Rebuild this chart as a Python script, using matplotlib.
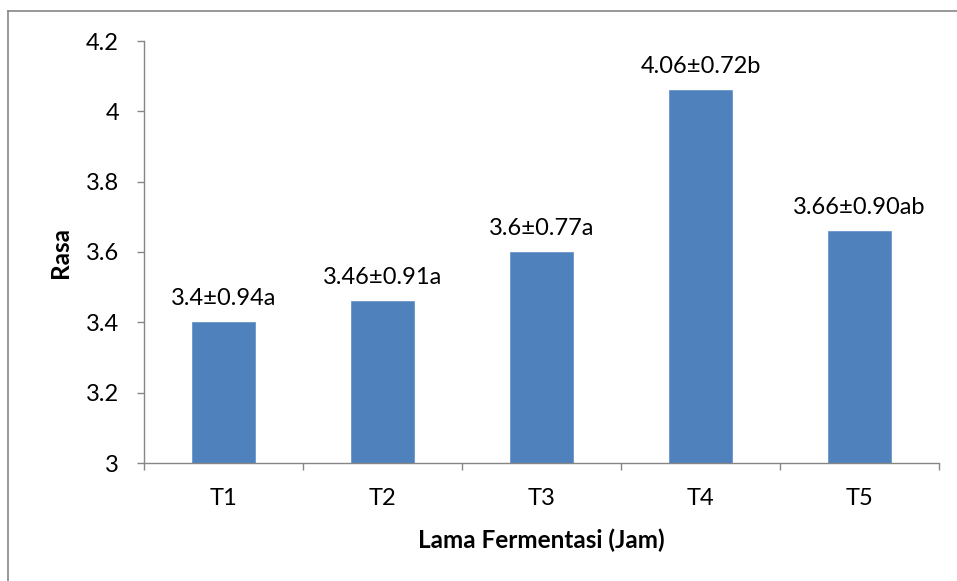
import matplotlib
matplotlib.use("Agg")
import matplotlib.pyplot as plt
from matplotlib.lines import Line2D

# data
categories = ["T1", "T2", "T3", "T4", "T5"]
values = [3.4, 3.46, 3.6, 4.06, 3.66]
labels = ["3.4\u00b10.94a", "3.46\u00b10.91a", "3.6\u00b10.77a", "4.06\u00b10.72b", "3.66\u00b10.90ab"]
yticks = [3, 3.2, 3.4, 3.6, 3.8, 4, 4.2]
ytick_labels = ["3", "3.2", "3.4", "3.6", "3.8", "4", "4.2"]

plt.rcParams['font.family'] = ['Lato', 'DejaVu Sans']
W, H = 957, 581
fig = plt.figure(figsize=(W / 100, H / 100), dpi=100)

# axes placed in pixel coords
ax = fig.add_axes([144 / W, (H - 463) / H, (939 - 144) / W, 422 / H])

x = list(range(len(categories)))
ax.bar(x, values, width=0.4, bottom=0, color="#4F81BD", edgecolor="#6A96CC", linewidth=0.6, zorder=2)
ax.set_ylim(3, 4.2)
ax.set_xlim(-0.5, len(categories) - 0.5)

for xi, v, lab in zip(x, values, labels):
    ax.annotate(lab, (xi, v), xytext=(0, 9.5), textcoords="offset points",
                ha="center", va="bottom", fontsize=17, color="black")

ax.set_yticks(yticks)
ax.set_yticklabels(ytick_labels, fontsize=17)
ax.set_xticks(x)
ax.set_xticklabels(categories, fontsize=17)
ax.set_xticks([i - 0.5 for i in range(len(categories) + 1)], minor=True)
ax.tick_params(axis="x", which="major", length=0, pad=18)
ax.tick_params(axis="x", which="minor", length=5, width=1, color="#868686", direction="out")
ax.tick_params(axis="y", length=5, width=1, color="#868686", pad=13)

for s in ["top", "right"]:
    ax.spines[s].set_visible(False)
for s in ["left", "bottom"]:
    ax.spines[s].set_color("#868686")
    ax.spines[s].set_linewidth(1)

fig.text(61 / W, 1 - 253 / H, "Rasa", rotation=90, ha="center", va="center",
         fontsize=17.5, fontweight="bold")
fig.text(541 / W, 1 - 540 / H, "Lama Fermentasi (Jam)", ha="center", va="center",
         fontsize=17.5, fontweight="bold")

# outer chart border (only left and top visible in crop)
fig.add_artist(Line2D([8 / W, 8 / W], [0, 1 - 11 / H], transform=fig.transFigure,
                      color="#868686", linewidth=1.2))
fig.add_artist(Line2D([8 / W, 1], [1 - 11 / H, 1 - 11 / H], transform=fig.transFigure,
                      color="#868686", linewidth=1.2))

fig.savefig("out.png", dpi=100)
